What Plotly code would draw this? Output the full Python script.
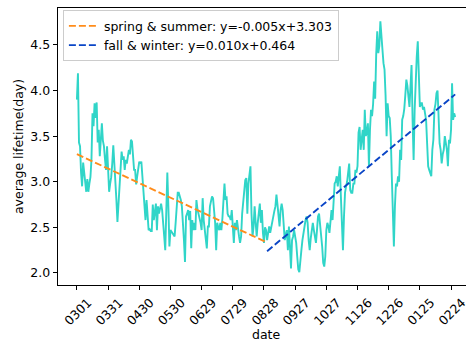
import plotly.graph_objects as go

# ---- data -------------------------------------------------------------
# daily average lifetime, day index 0 = 0301 ... 364 = 0228
lifetime = [
    3.90, 4.19, 3.43, 3.39, 3.10, 2.95, 3.21, 3.10, 3.00, 2.89,
    3.03, 2.89, 2.98, 3.05, 3.24, 3.75, 3.61, 3.86, 3.70, 3.87,
    3.43, 3.57, 3.28, 3.50, 3.64, 3.45, 3.39, 3.25, 3.13, 3.39,
    3.10, 2.89, 2.98, 3.05, 3.20, 3.40, 3.20, 3.05, 2.80, 2.56,
    2.75, 2.95, 3.15, 3.33, 3.24, 3.28, 3.13, 3.24, 3.20, 3.31,
    3.35, 3.30, 3.46, 3.44, 3.30, 3.13, 3.13, 2.97, 3.06, 3.15,
    3.22, 3.20, 3.22, 3.06, 2.90, 2.80, 2.58, 2.80, 2.60, 2.47,
    2.48, 2.46, 2.46, 2.75, 2.58, 2.65, 2.76, 2.47, 2.73, 2.65,
    2.70, 2.76, 2.69, 2.58, 2.40, 2.25, 2.58, 3.10, 2.73, 2.29,
    2.47, 2.45, 2.44, 2.42, 2.40, 2.55, 2.76, 2.88, 2.88, 2.85,
    2.80, 2.73, 2.58, 2.36, 2.12, 2.62, 2.65, 2.69, 2.58, 2.68,
    2.27, 2.58, 2.47, 2.55, 2.47, 2.80, 2.70, 2.65, 2.62, 2.55,
    2.47, 2.82, 2.58, 2.45, 2.40, 2.27, 2.51, 2.51, 2.73, 2.78,
    2.84, 2.82, 2.70, 2.55, 2.25, 2.55, 2.50, 2.47, 2.55, 2.47,
    2.60, 2.76, 2.98, 2.80, 2.84, 2.65, 2.62, 2.62, 2.58, 2.69,
    2.45, 2.33, 2.55, 2.47, 2.58, 2.45, 2.40, 2.33, 2.40, 2.65,
    2.76, 2.90, 3.02, 3.04, 2.65, 2.98, 3.10, 3.17, 2.65, 2.40,
    2.51, 2.73, 2.55, 2.40, 2.55, 2.65, 2.76, 2.55, 2.69, 2.44,
    2.33, 2.50, 2.47, 2.36, 2.45, 2.51, 2.44, 2.51, 2.55, 2.62,
    2.68, 2.73, 2.86, 2.75, 2.65, 2.51, 2.69, 2.76, 2.69, 2.55,
    2.36, 2.42, 2.47, 2.25, 2.51, 2.29, 2.05, 2.36, 2.40, 2.47,
    2.40, 2.33, 2.18, 2.04, 2.01, 2.10, 2.25, 2.36, 2.44, 2.51,
    2.58, 2.62, 2.55, 2.36, 2.25, 2.38, 2.47, 2.55, 2.47, 2.40,
    2.33, 2.47, 2.62, 2.65, 2.55, 2.44, 2.29, 2.11, 2.07, 2.18,
    2.47, 2.55, 2.51, 2.44, 2.60, 2.69, 2.58, 2.73, 2.98, 3.00,
    3.06, 2.95, 3.10, 3.17, 2.84, 2.51, 2.25, 2.62, 2.88, 2.95,
    3.00, 3.10, 3.20, 2.91, 2.88, 2.88, 2.98, 2.98, 3.13, 3.10,
    3.17, 3.54, 3.60, 3.35, 3.50, 3.57, 3.35, 3.79, 3.50, 3.55,
    3.64, 3.17, 3.57, 3.79, 3.72, 3.85, 4.10, 3.91, 4.40, 4.65,
    4.41, 4.49, 4.76, 4.55, 4.45, 4.30, 4.23, 3.95, 3.50, 3.86,
    3.72, 3.70, 3.50, 3.06, 2.70, 2.29, 2.73, 2.98, 2.95, 3.06,
    3.00, 3.35, 3.24, 3.68, 3.72, 3.80, 3.95, 4.12, 4.05, 3.90,
    3.82, 4.05, 4.28, 3.68, 3.24, 3.79, 4.16, 4.37, 4.54, 4.16,
    3.82, 3.86, 3.86, 3.79, 3.82, 3.75, 3.68, 3.42, 3.17, 3.13,
    3.10, 3.06, 3.35, 3.46, 3.79, 3.85, 3.97, 4.00, 3.72, 3.42,
    3.35, 3.20, 3.30, 3.35, 3.50, 3.42, 3.35, 3.17, 3.46, 3.42,
    3.57, 4.08, 3.68, 3.75, 3.71,
]
days = list(range(len(lifetime)))

tick_days = [0, 30, 60, 90, 120, 150, 180, 210, 240, 270, 300, 330, 360]
tick_labels = ["0301", "0331", "0430", "0530", "0629", "0729", "0828",
               "0927", "1027", "1126", "1226", "0125", "0224"]

# regression fits: (slope, intercept, first day, last day)
spring_fit = (-0.0053, 3.303, 0, 181)
fall_fit = (0.0095, 0.50, 183, 364)
spring_label = "spring & summer: y=-0.005x+3.303"
fall_label = "fall & winter: y=0.010x+0.464"

# ---- figure -----------------------------------------------------------
FONT = "DejaVu Sans"
fig = go.Figure()

fig.add_trace(go.Scatter(
    x=days, y=lifetime, mode="lines", showlegend=False,
    line=dict(color="#30d5c8", width=1.9), hoverinfo="skip"))

def fit_line(fit):
    s, b, d0, d1 = fit
    xs = [d0, d1]
    return xs, [s * x + b for x in xs]

sx, sy = fit_line(spring_fit)
fig.add_trace(go.Scatter(
    x=sx, y=sy, mode="lines", name=spring_label,
    line=dict(color="#ff8c1a", width=1.9, dash="7px,3px")))
fx, fy = fit_line(fall_fit)
fig.add_trace(go.Scatter(
    x=fx, y=fy, mode="lines", name=fall_label,
    line=dict(color="#0a45c6", width=1.9, dash="7px,3px")))

fig.update_layout(
    width=466, height=341,
    margin=dict(l=58, r=0, t=8, b=56),
    paper_bgcolor="white", plot_bgcolor="white",
    font=dict(family=FONT, size=12.5, color="black"),
    legend=dict(x=0.012, y=0.992, xanchor="left", yanchor="top",
                bgcolor="rgba(255,255,255,0.8)", bordercolor="#cccccc",
                borderwidth=1, font=dict(size=12.5), tracegroupgap=0),
    xaxis=dict(
        range=[-18.2, 374.4], showgrid=False, zeroline=False,
        showline=True, linecolor="black", linewidth=1, mirror=True,
        ticks="outside", ticklen=4.4, tickwidth=1, tickcolor="black",
        tickvals=tick_days, ticktext=tick_labels, tickangle=-45,
        ticklabelshift=11, ticklabeloverflow="allow", automargin=False),
    yaxis=dict(
        range=[1.868, 4.905], showgrid=False, zeroline=False,
        showline=True, linecolor="black", linewidth=1, mirror=False,
        ticks="outside", ticklen=4.4, tickwidth=1, tickcolor="black",
        automargin=False,
        tickvals=[2.0, 2.5, 3.0, 3.5, 4.0, 4.5],
        ticktext=["2.0", "2.5", "3.0", "3.5", "4.0", "4.5"],
        title=dict(text="average lifetime(day)", font=dict(size=12.5), standoff=3)),
    annotations=[dict(text="date", xref="paper", yref="paper",
                      x=0.51, y=-0.177, xanchor="center", yanchor="middle",
                      showarrow=False, font=dict(size=12.5))],
)

fig.write_html("out.html")
